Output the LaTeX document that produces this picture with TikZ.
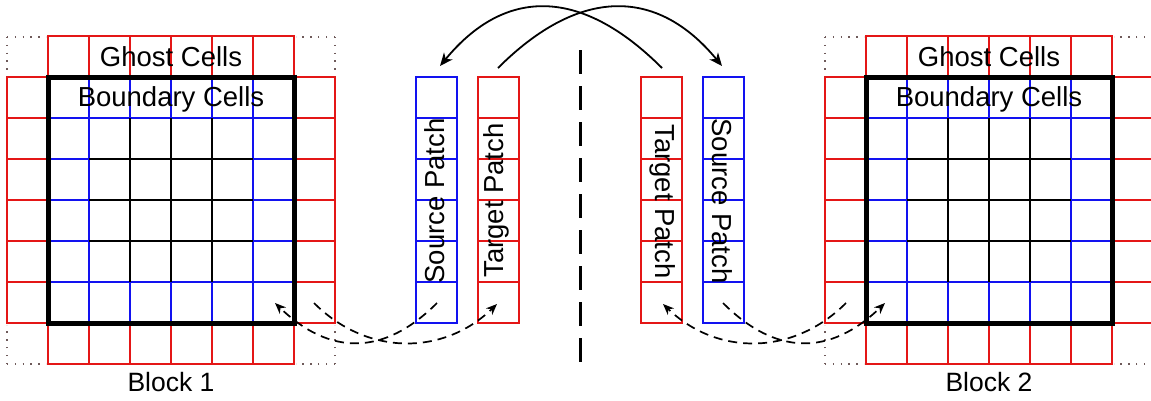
\documentclass[tikz,border=0pt]{standalone}
\usepackage{fontspec}
\setmainfont{Liberation Sans}
\usetikzlibrary{arrows.meta}
\definecolor{cred}{RGB}{228,22,22}
\definecolor{cblue}{RGB}{18,18,240}
\definecolor{cdot}{RGB}{110,90,90}
\begin{document}
\begin{tikzpicture}[x=1pt,y=-1pt,
  ghost/.style={draw=cred, line width=1.5pt},
  bnd/.style={draw=cblue, line width=1.6pt},
  innerline/.style={draw=black, line width=1.8pt},
  border/.style={draw=black, line width=5pt},
  corner/.style={draw=cdot, line width=1.4pt, dash pattern=on 1.4pt off 6.4pt},
  biglbl/.style={font=\fontsize{27.5}{32}\selectfont, inner sep=0pt, anchor=base},
  lbl/.style={font=\fontsize{27.5}{32}\selectfont, inner sep=0pt},
  blklbl/.style={font=\fontsize{26.5}{30}\selectfont, inner sep=0pt, anchor=base},
  arc/.style={draw=black, line width=1.8pt, -{Stealth[length=13pt,width=11pt,inset=4pt]}},
  dasharc/.style={draw=black, line width=1.7pt, dash pattern=on 9pt off 6pt, -{Stealth[length=11pt,width=9pt,inset=3.5pt]}},
  sep/.style={draw=black, line width=3pt, dash pattern=on 24pt off 12pt}
]
\useasboundingbox (0,0) rectangle (1151,400);

% ---------- blocks ----------
\foreach \ox in {0,818} {
\begin{scope}[xshift=\ox pt]
  \foreach \i in {0,...,5} {
    \draw[ghost] (48+41*\i,36) rectangle ++(41,41);
    \draw[ghost] (48+41*\i,323) rectangle ++(41,41);
    \draw[ghost] (7,77+41*\i) rectangle ++(41,41);
    \draw[ghost] (294,77+41*\i) rectangle ++(41,41);
  }
  % boundary ring lines (blue)
  \draw[bnd] (89,77) -- (89,323);
  \draw[bnd] (253,77) -- (253,323);
  \draw[bnd] (48,118) -- (294,118);
  \draw[bnd] (48,282) -- (294,282);
  \foreach \v in {130,171,212} {
    \draw[bnd] (\v,77) -- (\v,118);
    \draw[bnd] (\v,282) -- (\v,323);
    \draw[bnd] (48,\v+29) -- (89,\v+29);
    \draw[bnd] (253,\v+29) -- (294,\v+29);
    \draw[innerline] (\v,118) -- (\v,282);
    \draw[innerline] (89,\v+29) -- (253,\v+29);
  }
  \draw[border] (48,77) rectangle (294,323);
  % dotted corner cells
  \draw[corner] (7,37) -- (46,37);
  \draw[corner] (7,37) -- (7,76);
  \draw[corner] (335,37) -- (296,37);
  \draw[corner] (335,37) -- (335,76);
  \draw[corner] (7,364) -- (46,364);
  \draw[corner] (7,364) -- (7,325);
  \draw[corner] (335,364) -- (296,364);
  \draw[corner] (335,364) -- (335,325);
\end{scope}
}

% ---------- labels of blocks ----------
\node[biglbl] (gc1) at (171,66.5) {Ghost Cells};
\node[biglbl] (gc2) at (989,66.5) {Ghost Cells};
\node[lbl, anchor=base] (bc1) at (171,106.5) {Boundary Cells};
\node[lbl, anchor=base] (bc2) at (989,106.5) {Boundary Cells};
\node[blklbl] (bl1) at (171,391) {Block 1};
\node[blklbl] (bl2) at (989,391) {Block 2};

% ---------- patches ----------
\foreach \px/\col in {416/cblue, 478/cred, 641/cred, 703/cblue} {
  \foreach \i in {0,...,5} {
    \draw[draw=\col, line width=1.5pt] (\px,77+41*\i) rectangle ++(41,41);
  }
}
\node[lbl, rotate=90] (sp1) at (435,201) {Source Patch};
\node[lbl, rotate=90] (tp1) at (496.5,200.5) {Target Patch};
\node[lbl, rotate=-90] (tp2) at (663,201.5) {Target Patch};
\node[lbl, rotate=-90] (sp2) at (722.5,201) {Source Patch};

% ---------- separator ----------
\coordinate (septop) at (580,50);
\coordinate (sepbot) at (580,364);
\draw[sep] (septop) -- (sepbot);

% ---------- exchange arcs ----------
\coordinate (t1top) at (498,68);
\coordinate (s2top) at (722,66);
\coordinate (t2top) at (662,68);
\coordinate (s1top) at (440,66);
\draw[arc] (t1top) .. controls (579,-13) and (657,-13) .. (s2top);
\draw[arc] (t2top) .. controls (581,-13) and (505,-13) .. (s1top);

% ---------- local copies (dashed) ----------
\coordinate (g1) at (314,303);
\coordinate (t1b) at (497,304);
\coordinate (s1b) at (437,303);
\coordinate (b1c) at (275,303);
\coordinate (s2b) at (723,303);
\coordinate (b2c) at (885,303);
\coordinate (g2) at (846,303);
\coordinate (t2b) at (663,304);
\draw[dasharc] (g1) .. controls (367,356) and (443,356) .. (t1b);
\draw[dasharc] (s1b) .. controls (384,356) and (330,356) .. (b1c);
\draw[dasharc] (s2b) .. controls (776,356) and (830,356) .. (b2c);
\draw[dasharc] (g2) .. controls (793,356) and (717,356) .. (t2b);
\end{tikzpicture}
\end{document}
